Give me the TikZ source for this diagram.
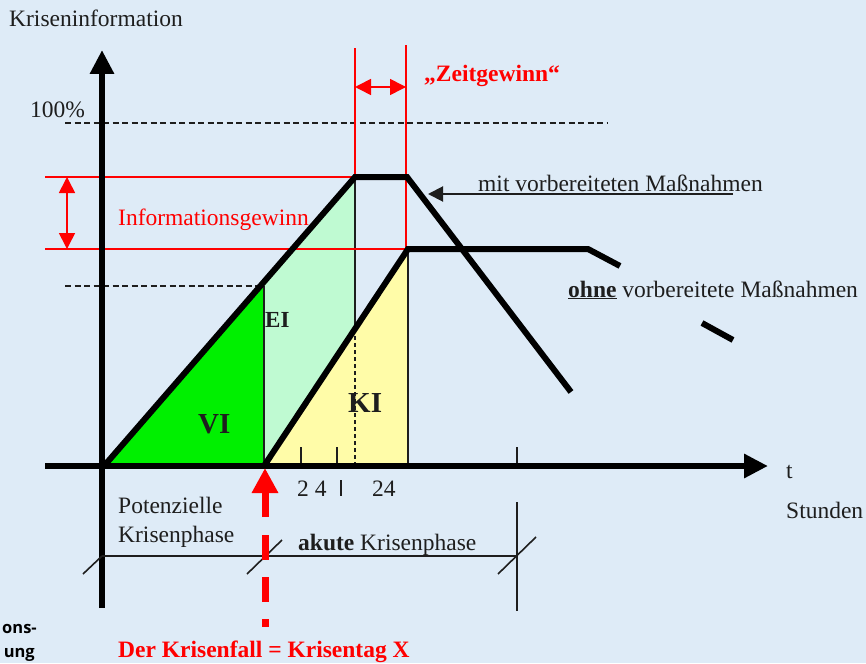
\documentclass[tikz,border=0pt]{standalone}
\usepackage{fontspec}
\setmainfont{Liberation Serif}
\setsansfont{Open Sans}
\usetikzlibrary{arrows.meta,positioning,calc}
\definecolor{cBg}{HTML}{DEEBF7}
\definecolor{cRed}{HTML}{FF0000}
\definecolor{cVI}{HTML}{00F000}
\definecolor{cEI}{HTML}{BFFAD2}
\definecolor{cKI}{HTML}{FFFCA8}
\definecolor{cInk}{HTML}{1E1E1E}
\tikzset{
  lbl/.style={font=\fontsize{23.5}{28}\selectfont, text=cInk, inner sep=0pt,
              anchor=base west},
  redlbl/.style={lbl, text=cRed},
  area/.style={font=\bfseries\fontsize{29}{32}\selectfont, text=cInk,
               inner sep=0pt, anchor=base west},
  frag/.style={lbl, anchor=base east, text=black,
               font=\sffamily\bfseries\fontsize{16.5}{20}\selectfont},
  axis/.style={line width=6pt, draw=black, -{Triangle[length=24pt,width=23pt]}},
  curve/.style={line width=6pt, draw=black},
  guide/.style={line width=1.6pt, draw=cInk},
  guided/.style={guide, dash pattern=on 6pt off 3.5pt},
  redline/.style={line width=1.6pt, draw=cRed},
  redarr/.style={redline, {Triangle[length=16pt,width=16pt]}-{Triangle[length=16pt,width=16pt]}},
  ptr/.style={line width=2pt, draw=cInk, -{Triangle[length=15pt,width=15pt]}},
  kfall/.style={line width=7pt, draw=cRed},
}

\begin{document}
\begin{tikzpicture}[x=1pt, y=-1pt]
  \fill[cBg] (0,0) rectangle (866,663);
  \useasboundingbox (0,0) rectangle (866,663);

  % Eckpunkte der Kurven
  \coordinate (O) at (102,466);
  \coordinate (mA) at (104,466);
  \coordinate (vE) at (264,286);
  \coordinate (mB) at (355,177);
  \coordinate (mC) at (407,177);
  \coordinate (mD) at (571,392);
  \coordinate (oA) at (264,466);
  \coordinate (oS) at (355,329);
  \coordinate (oB) at (408,249);
  \coordinate (oC) at (588,249);
  \coordinate (oD) at (620,266);
  \coordinate (oE) at (702,323);
  \coordinate (oF) at (733,340);

  % Flaechen
  \fill[cVI] (mA) -- (vE) -- (vE |- O) -- cycle;
  \fill[cEI] (vE) -- (mB) -- (oS) -- (oA) -- cycle;
  \fill[cKI] (oA) -- (oB) -- (oB |- O) -- cycle;

  % Hilfslinien
  \draw[guided] (65,123) -- (608,123);
  \draw[guided] (65,286) -- (vE);
  \draw[guide] (vE) -- (vE |- O);
  \draw[guide] (mB) -- (oS);
  \draw[guide, dash pattern=on 4pt off 3pt] (oS) -- (oS |- O);
  \draw[guide] (oB) -- (oB |- O);
  \foreach \tx in {301,337,517}
    \draw[guide] (\tx,447) -- (\tx,466);
  \draw[guide] (341,480) -- (341,496);

  % Zeitgewinn / Informationsgewinn
  \draw[redline] (45,177) -| (355,48);
  \draw[redline] (45,249) -| (406,45);
  \draw[redarr] (67,177) -- (67,249);
  \draw[redarr] (355,87) -- (406,87);

  % Kurven
  \draw[curve] (mA) -- (mB) -- (mC) -- (mD);
  \draw[curve] (oA) -- (oB) -- (oC) -- (oD);
  \draw[curve] (oE) -- (oF);

  % Achsen
  \draw[axis] (102,608) -- (102,50);
  \draw[axis] (45,466) -- (768,466);

  % Phasen
  \draw[guide] (102,556) -- (517,556);
  \draw[guide] (83,574) -- (102,556);
  \draw[guide] (247,574) -- (282,540);
  \draw[guide] (498,574) -- (536,537);
  \draw[guide] (517,502) -- (517,611);

  % Krisenfall
  \coordinate (kfTop) at (265,468);
  \coordinate (kfBase) at (265,517);
  \draw[kfall, -{Triangle[length=25pt,width=25pt]}] (kfBase) -- (kfTop);
  \draw[kfall, dash pattern=on 25pt off 17pt] (265,535) -- (265,627);

  % Beschriftungen
  \node[lbl] (yaxis) at (9,27) {Kriseninformation};
  \node[lbl] (hundred) at (30,118) {100\%};
  \node[redlbl, font=\bfseries\fontsize{23.5}{28}\selectfont] (zeit) at (424,82) {„Zeitgewinn“};
  \node[redlbl] (infogew) at (118,225) {Informationsgewinn};
  \node[lbl] (mit) at (478,191) {mit vorbereiteten Maßnahmen};
  \coordinate (mitEnd) at (733,194);
  \coordinate (mitTip) at (428,194);
  \draw[ptr] (mitEnd) -- (mitTip);
  \node[lbl] (ohne) at (568,297) {\underline{\textbf{ohne}} vorbereitete Maßnahmen};
  \node[area, font=\bfseries\fontsize{23}{26}\selectfont] (ei) at (265,327) {EI};
  \node[area] (ki) at (348,412) {KI};
  \node[area] (vi) at (198,433) {VI};
  \node[lbl] (ticka) at (297,496) {2 4};
  \node[lbl] (tickb) at (372,496) {24};
  \node[lbl] (t) at (786,478) {t};
  \node[lbl] (stunden) at (786,518) {Stunden};
  \node[lbl] (pot) at (118,513) {Potenzielle};
  \node[lbl] (potb) at (118,542) {Krisenphase};
  \node[lbl] (akut) at (298,550) {\textbf{akute} Krisenphase};
  \node[redlbl, font=\bfseries\fontsize{23.5}{28}\selectfont] (kfall) at (118,657) {Der Krisenfall = Krisentag X};
  \node[frag] (frA) at (37,633) {ons-};
  \node[frag] (frB) at (35,657) {ung};
\end{tikzpicture}
\end{document}
